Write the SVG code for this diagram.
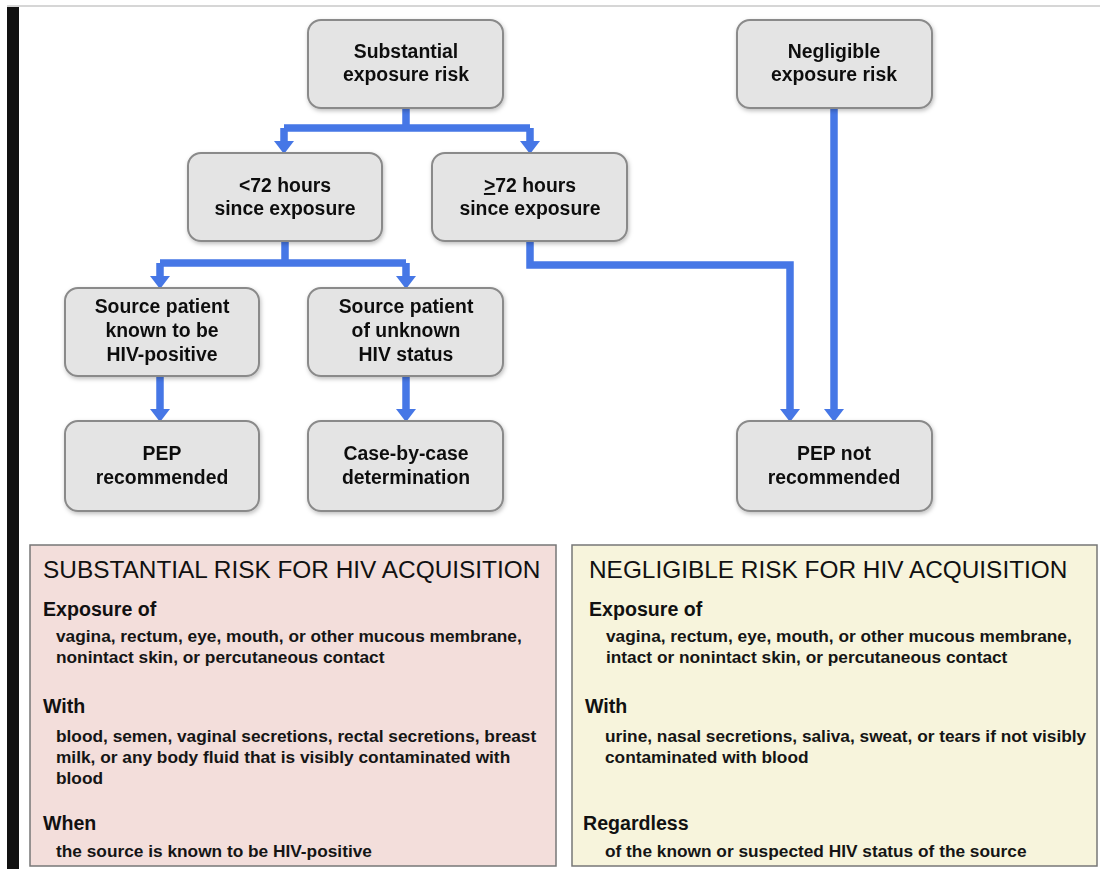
<svg xmlns="http://www.w3.org/2000/svg" width="1100" height="869" viewBox="0 0 1100 869">
<style>
.node rect{fill:#e4e4e4;stroke:#8a8a8a;stroke-width:2}
.nt{font-family:"Liberation Sans",Arial,sans-serif;font-weight:bold;font-size:19.4px;fill:#111;text-anchor:middle}
.conn{fill:none;stroke:#4677e6;stroke-width:7.5}
.ah{fill:#4677e6}
.ttl{font-family:"Liberation Sans",Arial,sans-serif;font-size:24.4px;fill:#111}
.hd{font-family:"Liberation Sans",Arial,sans-serif;font-weight:bold;font-size:19.6px;fill:#111}
.bd{font-family:"Liberation Sans",Arial,sans-serif;font-weight:bold;font-size:17.3px;fill:#151515}
</style>
<defs>
<filter id="sh" x="-10%" y="-10%" width="125%" height="130%">
<feDropShadow dx="1" dy="2" stdDeviation="2" flood-color="#000" flood-opacity="0.25"/>
</filter>
</defs>
<rect x="0" y="0" width="1100" height="869" fill="#fff"/>
<line x1="7" y1="6" x2="1100" y2="6" stroke="#c8c8c8" stroke-width="1.5"/>
<rect x="7" y="7" width="12" height="862" fill="#111"/>

<g id="connectors">
<path class="conn" d="M406 108V128M284 128H530M284 128V143M530 128V143"/>
<path class="conn" d="M285 241V263M160 263H406M160 263V278M406 263V278"/>
<path class="conn" d="M530 241V265H790V411"/>
<path class="conn" d="M834 108V411"/>
<path class="conn" d="M160 376V411"/>
<path class="conn" d="M406 376V411"/>
<polygon class="ah" points="274,141 294,141 284,154"/>
<polygon class="ah" points="520,141 540,141 530,154"/>
<polygon class="ah" points="150,276 170,276 160,289"/>
<polygon class="ah" points="396,276 416,276 406,289"/>
<polygon class="ah" points="150,409 170,409 160,422"/>
<polygon class="ah" points="396,409 416,409 406,422"/>
<polygon class="ah" points="780,409 800,409 790,422"/>
<polygon class="ah" points="824,409 844,409 834,422"/>
</g>

<g id="n-substantial" class="node" filter="url(#sh)"><rect x="308" y="20" width="195" height="88" rx="13"/>
<text class="nt" x="406" y="58">Substantial</text><text class="nt" x="406" y="81">exposure risk</text></g>
<g id="n-negligible" class="node" filter="url(#sh)"><rect x="737" y="20" width="195" height="88" rx="13"/>
<text class="nt" x="834" y="58">Negligible</text><text class="nt" x="834" y="81">exposure risk</text></g>
<g id="n-lt72" class="node" filter="url(#sh)"><rect x="188" y="153" width="194" height="88" rx="13"/>
<text class="nt" x="285" y="192">&lt;72 hours</text><text class="nt" x="285" y="215">since exposure</text></g>
<g id="n-ge72" class="node" filter="url(#sh)"><rect x="432" y="153" width="195" height="88" rx="13"/>
<text class="nt" x="530" y="192"><tspan text-decoration="underline">&gt;</tspan>72 hours</text><text class="nt" x="530" y="215">since exposure</text></g>
<g id="n-known" class="node" filter="url(#sh)"><rect x="65" y="288" width="194" height="88" rx="13"/>
<text class="nt" x="162" y="313">Source patient</text><text class="nt" x="162" y="337">known to be</text><text class="nt" x="162" y="361">HIV-positive</text></g>
<g id="n-unknown" class="node" filter="url(#sh)"><rect x="308" y="288" width="195" height="88" rx="13"/>
<text class="nt" x="406" y="313">Source patient</text><text class="nt" x="406" y="337">of unknown</text><text class="nt" x="406" y="361">HIV status</text></g>
<g id="n-pep" class="node" filter="url(#sh)"><rect x="65" y="421" width="194" height="90" rx="13"/>
<text class="nt" x="162" y="460">PEP</text><text class="nt" x="162" y="484">recommended</text></g>
<g id="n-case" class="node" filter="url(#sh)"><rect x="308" y="421" width="195" height="90" rx="13"/>
<text class="nt" x="406" y="460">Case-by-case</text><text class="nt" x="406" y="484">determination</text></g>
<g id="n-pepnot" class="node" filter="url(#sh)"><rect x="737" y="421" width="195" height="90" rx="13"/>
<text class="nt" x="834" y="460">PEP not</text><text class="nt" x="834" y="484">recommended</text></g>

<g id="box-substantial">
<rect x="30" y="545" width="526" height="321" fill="#f3dedb" stroke="#777" stroke-width="1.5"/>
<text class="ttl" x="43" y="578">SUBSTANTIAL RISK FOR HIV ACQUISITION</text>
<text class="hd" x="43" y="616">Exposure of</text>
<text class="bd" x="56" y="642">vagina, rectum, eye, mouth, or other mucous membrane,</text>
<text class="bd" x="56" y="663">nonintact skin, or percutaneous contact</text>
<text class="hd" x="43" y="713">With</text>
<text class="bd" x="56" y="742">blood, semen, vaginal secretions, rectal secretions, breast</text>
<text class="bd" x="56" y="763">milk, or any body fluid that is visibly contaminated with</text>
<text class="bd" x="56" y="784">blood</text>
<text class="hd" x="43" y="830">When</text>
<text class="bd" x="56" y="857">the source is known to be HIV-positive</text>
</g>
<g id="box-negligible">
<rect x="572" y="545" width="525" height="321" fill="#f7f4dc" stroke="#777" stroke-width="1.5"/>
<text class="ttl" x="589" y="578">NEGLIGIBLE RISK FOR HIV ACQUISITION</text>
<text class="hd" x="589" y="616">Exposure of</text>
<text class="bd" x="606" y="642">vagina, rectum, eye, mouth, or other mucous membrane,</text>
<text class="bd" x="606" y="663">intact or nonintact skin, or percutaneous contact</text>
<text class="hd" x="585" y="713">With</text>
<text class="bd" x="605" y="742">urine, nasal secretions, saliva, sweat, or tears if not visibly</text>
<text class="bd" x="605" y="763">contaminated with blood</text>
<text class="hd" x="583" y="830">Regardless</text>
<text class="bd" x="605" y="857">of the known or suspected HIV status of the source</text>
</g>
</svg>
